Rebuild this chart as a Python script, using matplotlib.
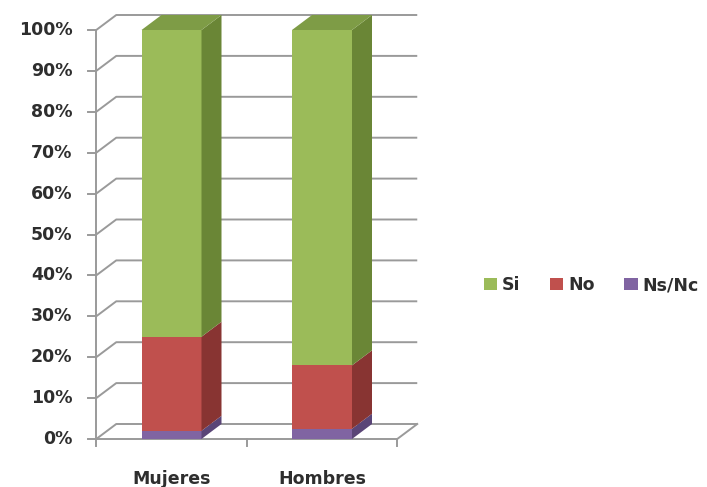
import matplotlib
matplotlib.use("Agg")
import matplotlib.pyplot as plt
from matplotlib.patches import Polygon, Patch

categories = ["Mujeres", "Hombres"]
series_names = ["Ns/Nc", "No", "Si"]
ns_nc = [2.0, 2.5]
no = [23.0, 15.5]
si = [75.0, 82.0]
y_ticks = [0, 10, 20, 30, 40, 50, 60, 70, 80, 90, 100]
y_tick_labels = [f"{v}%" for v in y_ticks]

front_colors = {"Si": "#9BBB59", "No": "#C0504D", "Ns/Nc": "#8064A2"}
side_colors = {"Si": "#6A8636", "No": "#883432", "Ns/Nc": "#5A4577"}
top_color = "#7E9C46"

plt.rcParams['font.family'] = ['DejaVu Sans']
FS = 12.5
TXT = "#2E2E2E"

W, H = 707, 487
fig = plt.figure(figsize=(W / 100, H / 100), dpi=100)

# pixel geometry
px_cat0, px_unit = 171.5, 150.5
x_left = -0.5
x_right = 1.5
dx = 20 / px_unit
px_per_pct = (439 - 30) / 100
dy = 15 / px_per_pct
bar_w = 60 / px_unit

left_px = px_cat0 + x_left * px_unit
right_px = px_cat0 + (x_right + dx) * px_unit
bottom_px = 439
top_px = 439 - (100 + dy) * px_per_pct
ax = fig.add_axes([left_px / W, (H - bottom_px) / H,
                   (right_px - left_px) / W, (bottom_px - top_px) / H])
ax.set_xlim(x_left, x_right + dx)
ax.set_ylim(0, 100 + dy)
ax.axis("off")

grid_c = "#9A9A9A"
lw = 1.4
# back wall gridlines with oblique part
for v in y_ticks:
    ax.plot([x_left, x_left + dx, x_right + dx], [v, v + dy, v + dy],
            color=grid_c, lw=lw, zorder=1, clip_on=False, solid_capstyle="butt")
# floor
ax.plot([x_left, x_right, x_right + dx], [0, 0, dy], color=grid_c, lw=lw,
        zorder=1, clip_on=False)
# front vertical axis
ax.plot([x_left, x_left], [0, 100], color=grid_c, lw=lw, zorder=5, clip_on=False)
tick_len_x = 8 / px_unit
for v, lab in zip(y_ticks, y_tick_labels):
    ax.plot([x_left - tick_len_x, x_left], [v, v], color=grid_c, lw=lw,
            zorder=5, clip_on=False)
    ax.text(x_left - 24 / px_unit, v, lab, ha="right", va="center",
            fontsize=FS, fontweight="bold", color=TXT)
# category ticks on floor
tick_len_y = 7 / px_per_pct
for xt in [-0.5, 0.5, 1.5]:
    ax.plot([xt, xt], [0, -tick_len_y], color=grid_c, lw=lw, clip_on=False, zorder=5)

xs = list(range(len(categories)))
for i, cat in enumerate(categories):
    ax.text(xs[i], -40 / px_per_pct, cat, ha="center", va="center",
            fontsize=FS, fontweight="bold", color=TXT)

# stacked bars with 3D faces
data = {"Ns/Nc": ns_nc, "No": no, "Si": si}
bottoms = [0.0] * len(categories)
for name in series_names:
    vals = data[name]
    ax.bar(xs, vals, bottom=bottoms, width=bar_w, color=front_colors[name],
           edgecolor="none", zorder=3)
    for i in xs:
        b = bottoms[i]
        t = b + vals[i]
        xr = xs[i] + bar_w / 2
        side = Polygon([(xr, b), (xr + dx, b + dy), (xr + dx, t + dy), (xr, t)],
                       closed=True, facecolor=side_colors[name], edgecolor="none",
                       zorder=3)
        ax.add_patch(side)
    bottoms = [bottoms[i] + vals[i] for i in xs]

for i in xs:
    t = bottoms[i]
    xl, xr = xs[i] - bar_w / 2, xs[i] + bar_w / 2
    top = Polygon([(xl, t), (xl + dx, t + dy), (xr + dx, t + dy), (xr, t)],
                  closed=True, facecolor=top_color, edgecolor="none", zorder=3,
                  clip_on=False)
    ax.add_patch(top)

handles = [Patch(facecolor=front_colors[n], edgecolor="none") for n in ["Si", "No", "Ns/Nc"]]
fig.legend(handles, ["Si", "No", "Ns/Nc"], loc="center left",
           bbox_to_anchor=(484 / W, (H - 285) / H),
           ncol=3, frameon=False, handlelength=0.75, handleheight=0.75,
           handletextpad=0.3, columnspacing=1.7, labelcolor=TXT,
           borderpad=0.0, borderaxespad=0.0,
           prop={"weight": "bold", "size": FS, "family": "DejaVu Sans"})

fig.savefig("out.png", dpi=100)
